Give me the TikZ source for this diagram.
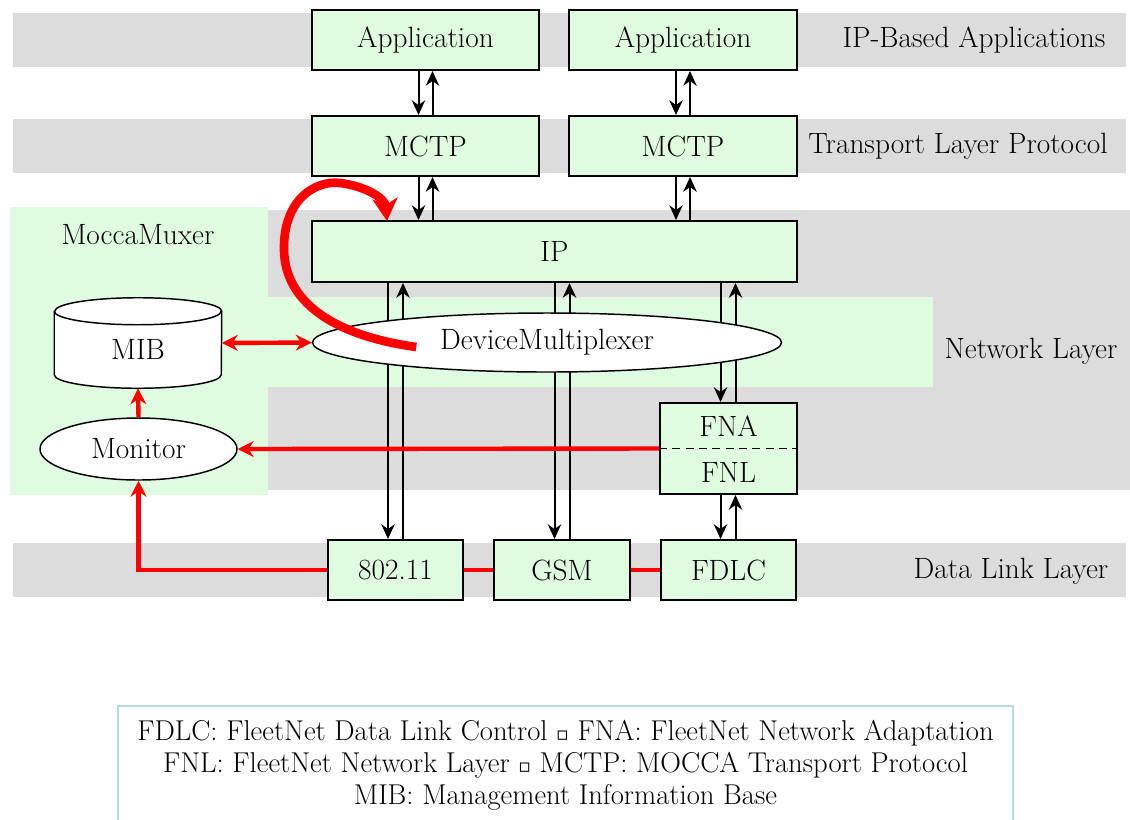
\documentclass[tikz,border=0pt]{standalone}
\usepackage{fontspec}
\newfontfamily\symfont{DejaVu Sans}
\usetikzlibrary{arrows.meta,calc,shapes.geometric}
\definecolor{band}{RGB}{220,220,220}
\definecolor{leaf}{RGB}{224,252,224}
\definecolor{legendline}{RGB}{180,222,222}
\pgfdeclarelayer{back}
\pgfdeclarelayer{wires}
\pgfsetlayers{back,wires,main}

\begin{document}
\begin{tikzpicture}[x=0.75pt,y=-0.75pt,
  every node/.style={font=\fontsize{22}{26}\selectfont},
  block/.style={draw, line width=1.5pt, fill=leaf, inner sep=0pt},
  upperbox/.style={block, minimum width=170.5pt, minimum height=45pt},
  linkbox/.style={block, minimum width=101.5pt, minimum height=45pt},
  oval/.style={ellipse, draw, line width=1.1pt, fill=white, inner sep=0pt},
  flowarrow/.style={line width=1.5pt, -{Stealth[length=11pt,width=10pt,inset=3.5pt]}},
  redtip/.tip={Stealth[length=12pt,width=12pt,inset=4pt]},
  redarrow/.style={draw=red, line width=3.3pt, -redtip},
  redboth/.style={draw=red, line width=3.3pt, redtip-redtip},
  redlink/.style={draw=red, line width=3.3pt},
  caption/.style={inner sep=0pt}
]
\useasboundingbox (0,0) rectangle (1130,819);

% layer bands and the MoccaMuxer area
\begin{pgfonlayer}{back}
  \fill[band] (13,13) rectangle (1126,67);
  \fill[band] (13,119) rectangle (1126,173);
  \fill[band] (268,210) rectangle (1130,490);
  \fill[band] (13,543) rectangle (1126,597);
  \fill[leaf] (10,207) rectangle (268,495);
  \fill[leaf] (268,297) rectangle (933,387);
\end{pgfonlayer}

% layer names
\node[caption] (lapp) at (974,40) {IP-Based Applications};
\node[caption] (ltrans) at (958,146) {Transport Layer Protocol};
\node[caption] (lnet) at (1031,351) {Network Layer};
\node[caption] (llink) at (1011,571) {Data Link Layer};
\node[caption] (lmux) at (138,235) {MoccaMuxer};

% protocol stack
\node[upperbox] (app1) at (425.5,40) {Application};
\node[upperbox] (app2) at (683,40) {Application};
\node[upperbox] (mctp1) at (425.5,146) {MCTP};
\node[upperbox] (mctp2) at (683,146) {MCTP};
\node[block, minimum width=363.75pt, minimum height=45.75pt] (ip) at (554.5,251.5) {IP};
\node[oval, minimum width=351.75pt, minimum height=44.25pt] (devmux) at (547,342.5) {DeviceMultiplexer};

\node[block, minimum width=102.75pt, minimum height=68.25pt] (fn) at (728.5,448.5) {};
\node[caption] (fna) at ($(fn.center)+(0,-22.5)$) {FNA};
\node[caption] (fnl) at ($(fn.center)+(0,23.5)$) {FNL};
\draw[dash pattern=on 6pt off 4pt, line width=1.1pt] (fn.west) -- (fn.east);

\node[linkbox] (wlan) at (395.5,570) {802.11};
\node[linkbox] (gsm) at (562,570) {GSM};
\node[linkbox] (fdlc) at (728.5,570) {FDLC};

% management side: MIB store and monitor
\node[minimum width=125.25pt, minimum height=67.5pt, inner sep=0pt] (mib) at (138,343) {};
\draw[line width=1.1pt, fill=white]
  ($(mib.north west)+(0,13.5)$) -- ($(mib.south west)+(0,-13.5)$)
  arc[start angle=180, end angle=0, x radius=83.5, y radius=13.5]
  -- ($(mib.north east)+(0,13.5)$)
  arc[start angle=0, end angle=-180, x radius=83.5, y radius=13.5] -- cycle;
\draw[line width=1.1pt] ($(mib.north west)+(0,13.5)$)
  arc[start angle=180, end angle=0, x radius=83.5, y radius=13.5];
\node[caption] (mibtext) at ($(mib.center)+(0,6)$) {MIB};
\node[oval, minimum width=147.75pt, minimum height=46.5pt] (monitor) at (138.5,449) {Monitor};

% data paths
\begin{pgfonlayer}{wires}
  \draw[flowarrow] ($(app1.south)+(-7,0)$) -- ($(mctp1.north)+(-7,0)$);
  \draw[flowarrow] ($(mctp1.north)+(7,0)$) -- ($(app1.south)+(7,0)$);
  \draw[flowarrow] ($(app2.south)+(-7,0)$) -- ($(mctp2.north)+(-7,0)$);
  \draw[flowarrow] ($(mctp2.north)+(7,0)$) -- ($(app2.south)+(7,0)$);
  \draw[flowarrow] ($(mctp1.south)+(-7,0)$) -- ($(ip.north -| mctp1.south)+(-7,0)$);
  \draw[flowarrow] ($(ip.north -| mctp1.south)+(7,0)$) -- ($(mctp1.south)+(7,0)$);
  \draw[flowarrow] ($(mctp2.south)+(-7,0)$) -- ($(ip.north -| mctp2.south)+(-7,0)$);
  \draw[flowarrow] ($(ip.north -| mctp2.south)+(7,0)$) -- ($(mctp2.south)+(7,0)$);

  \draw[flowarrow] ($(ip.south -| wlan.north)+(-7.5,0)$) -- ($(wlan.north)+(-7.5,0)$);
  \draw[flowarrow] ($(wlan.north)+(7.5,0)$) -- ($(ip.south -| wlan.north)+(7.5,0)$);
  \draw[flowarrow] ($(ip.south -| gsm.north)+(-7.5,0)$) -- ($(gsm.north)+(-7.5,0)$);
  \draw[flowarrow] ($(gsm.north)+(7.5,0)$) -- ($(ip.south -| gsm.north)+(7.5,0)$);
  \draw[flowarrow] ($(ip.south -| fn.north)+(-8,0)$) -- ($(fn.north)+(-8,0)$);
  \draw[flowarrow] ($(fn.north)+(7,0)$) -- ($(ip.south -| fn.north)+(7,0)$);
  \draw[flowarrow] ($(fn.south)+(-8,0)$) -- ($(fdlc.north)+(-8,0)$);
  \draw[flowarrow] ($(fdlc.north)+(7,0)$) -- ($(fn.south)+(7,0)$);
\end{pgfonlayer}

% monitoring paths
\draw[redboth] (mib.east) -- (devmux.west);
\draw[redarrow] (monitor.north) -- (mib.south);
\draw[redarrow] (fn.west) -- (monitor.east);
\draw[redarrow] (wlan.west) -| (monitor.south);
\draw[redlink] (wlan.east) -- (gsm.west);
\draw[redlink] (gsm.east) -- (fdlc.west);

% control loop from the multiplexer back into IP
\draw[red, line width=6.5pt, -{Stealth[length=17pt,width=19pt,inset=5pt]}]
  ($(devmux.west)+(104.5,4.5)$)
  .. controls (330,335) and (285,300) .. (284,250)
  .. controls (283,200) and (315,180) .. (340,183)
  .. controls (365,186) and (385,198) .. ($(ip.north west)+(76,1)$);

% abbreviations
\node[draw=legendline, line width=1.5pt, fill=white, minimum width=671.25pt,
      minimum height=88.5pt, align=center, inner sep=0pt,
      font=\fontsize{21.5}{24}\selectfont] (legend) at (565.5,765)
  {FDLC: FleetNet Data Link Control {\symfont\fontsize{14}{24}\selectfont ▫} FNA: FleetNet Network Adaptation\\
   FNL: FleetNet Network Layer {\symfont\fontsize{14}{24}\selectfont ▫} MCTP: MOCCA Transport Protocol\\
   MIB: Management Information Base};
\end{tikzpicture}
\end{document}
